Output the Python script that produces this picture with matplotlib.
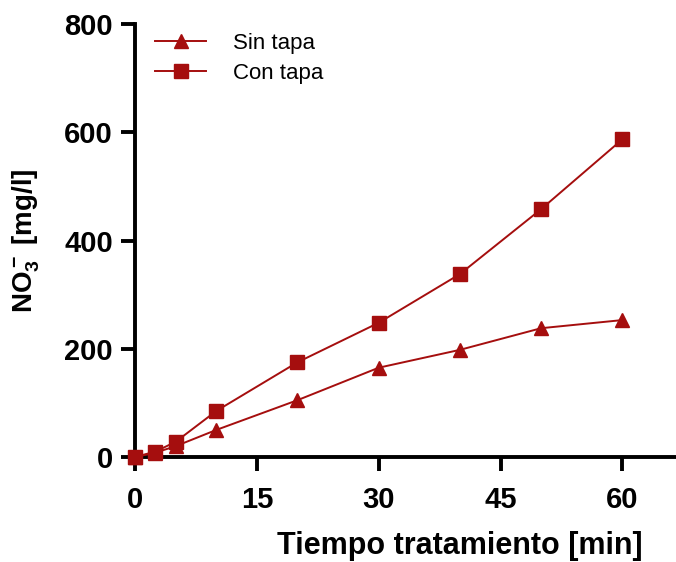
import matplotlib.pyplot as plt

tiempo = [0, 2.5, 5, 10, 20, 30, 40, 50, 60]
sin_tapa = [0, 8, 20, 50, 105, 165, 198, 238, 253]
con_tapa = [0, 10, 28, 85, 175, 248, 338, 458, 587]
x_ticks = [0, 15, 30, 45, 60]
y_ticks = [0, 200, 400, 600, 800]

color = '#A50E0E'

def main():
    plt.rcParams['font.family'] = ['Liberation Sans', 'DejaVu Sans']
    plt.rcParams['mathtext.fontset'] = 'custom'
    plt.rcParams['mathtext.rm'] = 'Liberation Sans:bold'
    plt.rcParams['mathtext.it'] = 'Liberation Sans:bold'
    plt.rcParams['mathtext.bf'] = 'Liberation Sans:bold'

    fig = plt.figure(figsize=(6.76, 5.62), dpi=100)
    ax = fig.add_axes([0.1997, 0.1868, 0.8003, 0.7705])

    ax.plot(tiempo, sin_tapa, color=color, marker='^', markersize=10, lw=1.4,
            label='Sin tapa', clip_on=False, zorder=3)
    ax.plot(tiempo, con_tapa, color=color, marker='s', markersize=10, lw=1.4,
            label='Con tapa', clip_on=False, zorder=3)

    ax.set_xlim(0, 66.6)
    ax.set_ylim(0, 800)
    ax.set_xticks(x_ticks)
    ax.set_yticks(y_ticks)

    for s in ['top', 'right']:
        ax.spines[s].set_visible(False)
    for s in ['left', 'bottom']:
        ax.spines[s].set_linewidth(2.8)
    ax.tick_params(width=2.8, length=10, labelsize=21, pad=6)
    ax.tick_params(axis='x', pad=11)
    for lab in ax.get_xticklabels() + ax.get_yticklabels():
        lab.set_fontweight('bold')

    ax.set_xlabel('Tiempo tratamiento [min]', fontsize=22, fontweight='bold')
    ax.xaxis.set_label_coords(0.60, -0.172)
    ax.set_ylabel(r'NO$_3^-$ [mg/l]', fontsize=20, fontweight='bold')
    ax.yaxis.set_label_coords(-0.172, 0.5)

    ax.legend(loc='upper left', bbox_to_anchor=(0.0, 1.025), frameon=False,
              fontsize=16, handlelength=2.3, handletextpad=1.2, labelspacing=0.4)

    fig.savefig('out.png', dpi=100)

if __name__ == '__main__':
    main()
